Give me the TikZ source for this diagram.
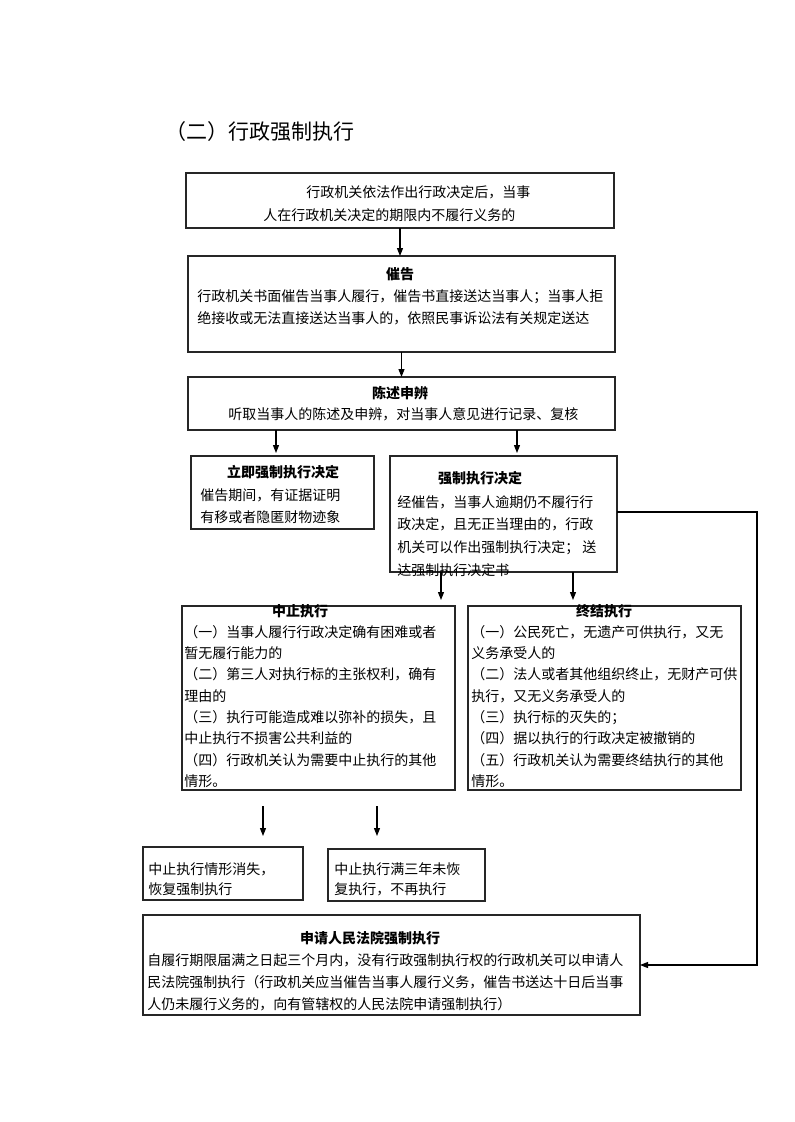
\documentclass[tikz,border=0pt]{standalone}
\usepackage{fontspec}
\setmainfont{Noto Sans CJK SC}
\usetikzlibrary{arrows.meta}
\newcommand\pbox[5]{\node[box, minimum width={(#4-#2)*0.75pt}, minimum height={(#5-#3)*0.75pt}] (#1) at (#2,#3) {};}
\begin{document}
\begin{tikzpicture}[x=0.75pt,y=-0.75pt,
  box/.style={draw=black!85, line width=0.8pt, inner sep=0pt, outer sep=0pt, anchor=north west},
  txt/.style={inner sep=0pt, anchor=west, align=left, font=\fontsize{10.5}{16.5}\selectfont},
  ttl/.style={inner sep=0pt, font=\fontsize{10.5}{12}\selectfont\bfseries},
  arr/.style={-{Triangle[length=6pt,width=4.5pt]}, line width=0.8pt, draw=black},
]
\useasboundingbox (0,0) rectangle (794,1122);

\node[inner sep=0pt, anchor=west, font=\fontsize{15.75}{18}\selectfont] (title) at (165,132) {（二）行政强制执行};

\pbox{b1}{186}{173}{614}{228}
\pbox{b2}{188}{256}{615}{352}
\pbox{b3}{188}{377}{615}{430}
\pbox{b4}{191}{456}{374}{529}
\pbox{b5}{390}{456}{617}{572}
\pbox{b6}{182}{606}{455}{790}
\pbox{b7}{468}{606}{741}{790}
\pbox{b8}{143}{847}{303}{900}
\pbox{b9}{328}{849}{485}{901}
\pbox{b10}{143}{915}{640}{1015}

% box 1
\node[txt] (t1a) at (306,192) {行政机关依法作出行政决定后，当事};
\node[txt] (t1b) at (263,215) {人在行政机关决定的期限内不履行义务的};
% box 2
\node[ttl] (t2h) at (400,274) {催告};
\node[txt] (t2) at (197,307) {行政机关书面催告当事人履行，催告书直接送达当事人；当事人拒\\绝接收或无法直接送达当事人的，依照民事诉讼法有关规定送达};
% box 3
\node[ttl] (t3h) at (400,393) {陈述申辨};
\node[txt] (t3) at (228,414) {听取当事人的陈述及申辨，对当事人意见进行记录、复核};
% box 4
\node[ttl] (t4h) at (283,472) {立即强制执行决定};
\node[txt] (t4) at (200,506) {催告期间，有证据证明\\有移或者隐匿财物迹象};
% box 5
\node[ttl] (t5h) at (480,478) {强制执行决定};
\node[txt, font=\fontsize{10.5}{17}\selectfont] (t5) at (397,536) {经催告，当事人逾期仍不履行行\\政决定，且无正当理由的，行政\\机关可以作出强制执行决定； 送\\达强制执行决定书};
% box 6
\node[ttl] (t6h) at (300,611) {中止执行};
\node[txt, font=\fontsize{10.5}{16}\selectfont] (t6) at (184,706.5) {（一）当事人履行行政决定确有困难或者\\暂无履行能力的\\（二）第三人对执行标的主张权利，确有\\理由的\\（三）执行可能造成难以弥补的损失，且\\中止执行不损害公共利益的\\（四）行政机关认为需要中止执行的其他\\情形。};
% box 7
\node[ttl] (t7h) at (604,611) {终结执行};
\node[txt, font=\fontsize{10.5}{16}\selectfont] (t7) at (471,706.5) {（一）公民死亡，无遗产可供执行，又无\\义务承受人的\\（二）法人或者其他组织终止，无财产可供\\执行，又无义务承受人的\\（三）执行标的灭失的；\\（四）据以执行的行政决定被撤销的\\（五）行政机关认为需要终结执行的其他\\情形。};
% box 8, 9
\node[txt, font=\fontsize{10.5}{15}\selectfont] (t8) at (148,879) {中止执行情形消失，\\恢复强制执行};
\node[txt, font=\fontsize{10.5}{15}\selectfont] (t9) at (334,879) {中止执行满三年未恢\\复执行，不再执行};
% box 10
\node[ttl] (t10h) at (370,938) {申请人民法院强制执行};
\node[txt] (t10) at (147,982) {自履行期限届满之日起三个月内，没有行政强制执行权的行政机关可以申请人\\民法院强制执行（行政机关应当催告当事人履行义务，催告书送达十日后当事\\人仍未履行义务的，向有管辖权的人民法院申请强制执行）};

% arrows
\draw[arr] (b1.south) -- (b1.south |- b2.north);
\draw[arr] (b2.south) -- (b3.north);
\draw[arr] (b3.south west) ++(88,0) -- ++(0,23);
\draw[arr] (b3.south west) ++(329,0) -- ++(0,23);
\draw[arr] (b5.south west) ++(51,0) -- ++(0,28);
\draw[arr] (b5.south west) ++(183,0) -- ++(0,28);
\draw[arr] (b6.south west) ++(81,16) -- ++(0,30);
\draw[arr] (b6.south west) ++(195,16) -- ++(0,30);
\draw[arr] (b5.north east) ++(0,56) -- ++(140,0) |- (b10.east);
\end{tikzpicture}
\end{document}
